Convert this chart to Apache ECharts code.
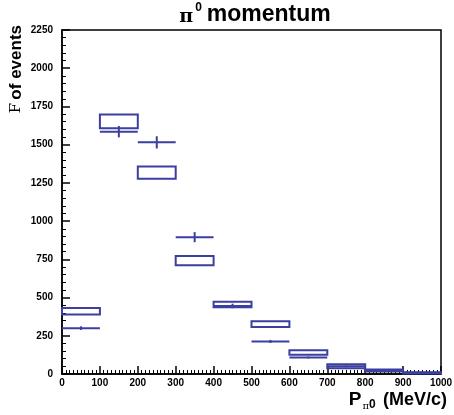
<!DOCTYPE html>
<html>
<head>
<meta charset="utf-8">
<script src="https://cdn.jsdelivr.net/npm/echarts@6/dist/echarts.min.js"></script>
<style>
  html, body { margin: 0; padding: 0; background: #fff; }
  #chart { width: 454px; height: 415px; }
</style>
</head>
<body>
<div id="chart"></div>
<script>
// bins in MeV/c
const binLo = [0, 100, 200, 300, 400, 500, 600, 700, 800, 900]
const binHi = [100, 200, 300, 400, 500, 600, 700, 800, 900, 1000]
// band (boxes)
const boxLow = [389, 1607, 1277, 712, 437, 308, 126, 38, 17, 4]
const boxHigh = [432, 1698, 1358, 772, 472, 345, 156, 64, 29, 12]
// data points with errors
const counts = [300, 1585, 1515, 895, 445, 213, 108, 50, 22, 8]
const errs = [12, 37, 40, 33, 15, 10, 6, 5, 3, 2]

const blue = '#3b3f9f'
const font = 'Liberation Sans, Arial, sans-serif'

const boxData = binLo.map((x, i) => [x, binHi[i], boxLow[i], boxHigh[i]])
const pointData = binLo.map((x, i) => [x, binHi[i], counts[i], errs[i]])

const chart = echarts.init(document.getElementById('chart'))
chart.setOption({
  animation: false,
  title: {
    text: '{pi|π}{sup|0}{t|momentum}',
    left: 250,
    textAlign: 'center',
    top: -3,
    textStyle: {
      rich: {
        pi: { fontFamily: 'DejaVu Serif, serif', fontSize: 19, color: '#000', verticalAlign: 'bottom', padding: [6, 0, 0, 0] },
        sup: { fontFamily: font, fontWeight: 'bold', fontSize: 12, color: '#000', verticalAlign: 'top', padding: [0, 5, 10, 2] },
        t: { fontFamily: font, fontWeight: 'bold', fontSize: 23, color: '#000' },
      },
    },
  },
  grid: {
    left: 62,
    right: 13,
    top: 30,
    bottom: 41,
    outerBoundsMode: 'none',
    show: true,
    borderColor: '#000',
    borderWidth: 1.5,
  },
  xAxis: {
    type: 'value',
    min: 0,
    max: 1000,
    interval: 100,
    name: '{p|P}{sub|π}{sub0|0} {t|(MeV/c)}',
    nameLocation: 'end',
    nameGap: 6,
    nameTextStyle: {
      align: 'right',
      verticalAlign: 'top',
      padding: [15, 0, 0, 0],
      rich: {
        p: { fontFamily: font, fontWeight: 'bold', fontSize: 19, color: '#000' },
        sub: { fontFamily: 'DejaVu Serif, serif', fontSize: 10, color: '#000', verticalAlign: 'bottom', padding: [12, 0, 0, 1] },
        sub0: { fontFamily: font, fontWeight: 'bold', fontSize: 12, color: '#000', verticalAlign: 'bottom', padding: [10, 4, 0, 0] },
        t: { fontFamily: font, fontWeight: 'bold', fontSize: 18, color: '#000' },
      },
    },
    axisLine: { lineStyle: { color: '#000', width: 1.5 } },
    axisTick: { inside: true, length: 8, lineStyle: { color: '#000', width: 1.5 } },
    minorTick: { show: true, splitNumber: 10, length: 4, lineStyle: { color: '#000', width: 1 } },
    splitLine: { show: false },
    axisLabel: { color: '#000', fontFamily: font, fontWeight: 'bold', fontSize: 10, margin: 4, formatter: v => String(v) },
  },
  yAxis: {
    type: 'value',
    min: 0,
    max: 2250,
    interval: 250,
    name: '{f|F} {t|of events}',
    nameLocation: 'end',
    nameRotate: 90,
    nameGap: 5,
    nameTextStyle: {
      align: 'right',
      verticalAlign: 'bottom',
      padding: [0, 0, 37, 0],
      rich: {
        f: { fontFamily: 'DejaVu Serif, serif', fontSize: 15, color: '#000' },
        t: { fontFamily: font, fontWeight: 'bold', fontSize: 17, color: '#000' },
      },
    },
    axisLine: { lineStyle: { color: '#000', width: 1.5 } },
    axisTick: { inside: true, length: 8, lineStyle: { color: '#000', width: 1.5 } },
    minorTick: { show: true, splitNumber: 5, length: 4, lineStyle: { color: '#000', width: 1 } },
    splitLine: { show: false },
    axisLabel: { color: '#000', fontFamily: font, fontWeight: 'bold', fontSize: 10, margin: 9, formatter: v => String(v) },
  },
  series: [
    {
      type: 'custom',
      data: boxData,
      encode: { x: [0, 1], y: [2, 3] },
      renderItem: (params, api) => {
        const p0 = api.coord([api.value(0), api.value(3)])
        const p1 = api.coord([api.value(1), api.value(2)])
        return {
          type: 'rect',
          shape: { x: p0[0], y: p0[1], width: p1[0] - p0[0], height: Math.max(p1[1] - p0[1], 1) },
          style: { fill: 'none', stroke: blue, lineWidth: 2 },
        }
      },
    },
    {
      type: 'custom',
      data: pointData,
      encode: { x: [0, 1], y: 2 },
      renderItem: (params, api) => {
        const x0 = api.value(0)
        const x1 = api.value(1)
        const y = api.value(2)
        const e = api.value(3)
        const a = api.coord([x0, y])
        const b = api.coord([x1, y])
        const xm = (x0 + x1) / 2
        const top = api.coord([xm, y + e])
        const bot = api.coord([xm, y - e])
        const style = { stroke: blue, lineWidth: 2 }
        return {
          type: 'group',
          children: [
            { type: 'line', shape: { x1: a[0], y1: a[1], x2: b[0], y2: b[1] }, style },
            { type: 'line', shape: { x1: top[0], y1: top[1], x2: bot[0], y2: bot[1] }, style },
          ],
        }
      },
    },
  ],
})
</script>
</body>
</html>
